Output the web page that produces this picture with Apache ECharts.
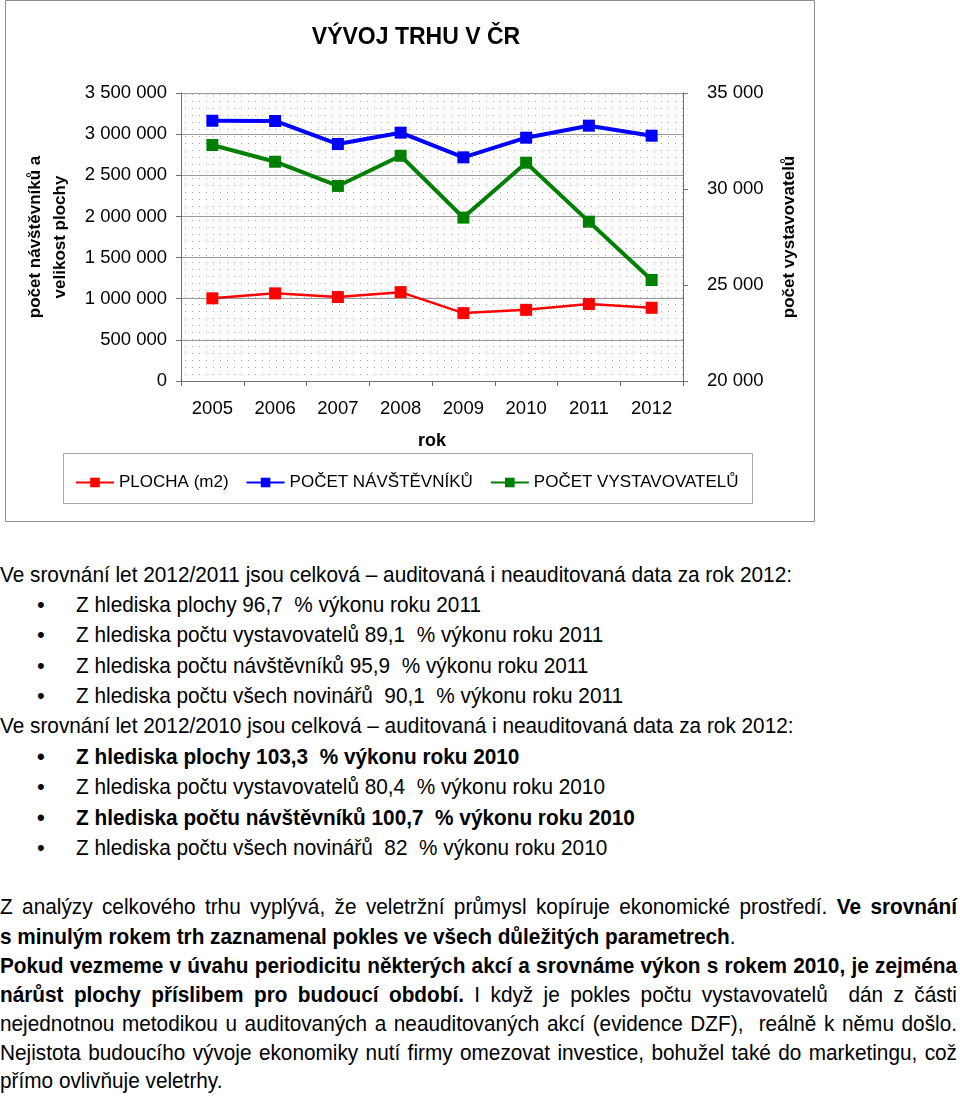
<!DOCTYPE html>
<html><head><meta charset="utf-8">
<script src="https://cdn.jsdelivr.net/npm/echarts@6/dist/echarts.min.js"></script>
<style>
html,body{margin:0;padding:0;background:#fff;width:960px;height:1098px;overflow:hidden;}
#chart{position:absolute;left:0;top:0;width:960px;height:530px;}
.t{position:absolute;left:0;white-space:nowrap;font-family:"Liberation Sans",Arial,sans-serif;font-size:22px;line-height:30px;color:#000;}
.b{font-weight:bold;}
.bul{position:absolute;left:37px;top:0;}
.sc{position:absolute;top:0;white-space:nowrap;transform-origin:0 0;transform:scaleX(var(--k,0.82));}
.j{text-align:justify;text-align-last:justify;white-space:normal;}
</style></head>
<body>
<div id="chart"></div>

<div class="t" style="top:560px"><span class="sc" id="ref1" style="left:0">Ve srovnání let 2012/2011 jsou celková – auditovaná i neauditovaná data za rok 2012:</span></div>
<div class="t" style="top:590px"><span class="bul">•</span><span class="sc" style="left:76px">Z hlediska plochy 96,7&nbsp; % výkonu roku 2011</span></div>
<div class="t" style="top:620px"><span class="bul">•</span><span class="sc" style="left:76px">Z hlediska počtu vystavovatelů 89,1&nbsp; % výkonu roku 2011</span></div>
<div class="t" style="top:651px"><span class="bul">•</span><span class="sc" style="left:76px">Z hlediska počtu návštěvníků 95,9&nbsp; % výkonu roku 2011</span></div>
<div class="t" style="top:681px"><span class="bul">•</span><span class="sc" style="left:76px">Z hlediska počtu všech novinářů&nbsp; 90,1&nbsp; % výkonu roku 2011</span></div>
<div class="t" style="top:711px"><span class="sc" style="left:0">Ve srovnání let 2012/2010 jsou celková – auditovaná i neauditovaná data za rok 2012:</span></div>
<div class="t b" style="top:742px"><span class="bul">•</span><span class="sc" style="left:76px">Z hlediska plochy 103,3&nbsp; % výkonu roku 2010</span></div>
<div class="t" style="top:772px"><span class="bul">•</span><span class="sc" style="left:76px">Z hlediska počtu vystavovatelů 80,4&nbsp; % výkonu roku 2010</span></div>
<div class="t b" style="top:803px"><span class="bul">•</span><span class="sc" style="left:76px">Z hlediska počtu návštěvníků 100,7&nbsp; % výkonu roku 2010</span></div>
<div class="t" style="top:833px"><span class="bul">•</span><span class="sc" style="left:76px">Z hlediska počtu všech novinářů&nbsp; 82&nbsp; % výkonu roku 2010</span></div>

<div class="t" style="top:892px"><div class="sc j jw" style="left:0">Z analýzy celkového trhu vyplývá, že veletržní průmysl kopíruje ekonomické prostředí. <b>Ve srovnání</b></div></div>
<div class="t" style="top:922px"><span class="sc" style="left:0"><b>s minulým rokem trh zaznamenal pokles ve všech důležitých parametrech</b>.</span></div>
<div class="t b" style="top:951px"><div class="sc j jw" style="left:0">Pokud vezmeme v úvahu periodicitu některých akcí a srovnáme výkon s rokem 2010, je zejména</div></div>
<div class="t" style="top:980px"><div class="sc j jw" style="left:0"><b>nárůst plochy příslibem pro budoucí období.</b> I když je pokles počtu vystavovatelů&nbsp; dán z&nbsp;části</div></div>
<div class="t" style="top:1009px"><div class="sc j jw" style="left:0">nejednotnou metodikou u auditovaných a neauditovaných akcí (evidence DZF),&nbsp; reálně k&nbsp;němu došlo.</div></div>
<div class="t" style="top:1038px"><div class="sc j jw" style="left:0">Nejistota budoucího vývoje ekonomiky nutí firmy omezovat investice, bohužel také do marketingu, což</div></div>
<div class="t" style="top:1066px"><span class="sc" style="left:0">přímo ovlivňuje veletrhy.</span></div>

<script>
(function(){
  const r = document.getElementById('ref1');
  const w = r.getBoundingClientRect().width / 0.82;
  const k = 792 / w;
  document.documentElement.style.setProperty('--k', k);
  document.querySelectorAll('.jw').forEach(el => { el.style.width = (957 / k) + 'px'; });
})();

const years = ['2005','2006','2007','2008','2009','2010','2011','2012'];
const plocha = [1005000, 1065000, 1020000, 1080000, 825000, 865000, 935000, 890000];
const navstevnici = [3163000, 3160000, 2880000, 3018000, 2718000, 2957000, 3103000, 2981000];
const vystavovatele = [32290, 31420, 30160, 31730, 28510, 31370, 28300, 25260];
const seriesNames = ['PLOCHA (m2)', 'POČET NÁVŠTĚVNÍKŮ', 'POČET VYSTAVOVATELŮ'];

const pat = document.createElement('canvas');
pat.width = 7; pat.height = 7;
const pc = pat.getContext('2d');
pc.fillStyle = '#fff'; pc.fillRect(0,0,7,7);
pc.fillStyle = '#a8a8a8'; pc.fillRect(3,3,1,1);

function fmt(v){ return String(v).replace(/\B(?=(\d{3})+(?!\d))/g, ' '); }

const font = '"Liberation Sans", Arial, sans-serif';
const chart = echarts.init(document.getElementById('chart'), null, {renderer:'canvas'});
chart.setOption({
  animation: false,
  backgroundColor: '#fff',
  textStyle: {fontFamily: font, color: '#000'},
  title: {text: 'VÝVOJ TRHU V ČR', left: 411, top: 21, textAlign: 'center',
    textStyle: {fontFamily: font, fontSize: 23, fontWeight: 'bold', color: '#000'}},
  graphic: [
    {type:'rect', shape:{x:5.5, y:0.5, width:809, height:521}, style:{fill:'none', stroke:'#8c8c8c', lineWidth:1}, z:-1},
    {type:'rect', shape:{x:63.5, y:453.5, width:689, height:50}, style:{fill:'none', stroke:'#a8a8a8', lineWidth:1}, z:-1}
  ],
  legend: {
    data: seriesNames, left: 70, top: 469, itemWidth: 38, itemHeight: 12, itemGap: 17,
    textStyle: {fontFamily: font, fontSize: 17, color: '#000'}
  },
  grid: {left: 181, right: 277, top: 93, bottom: 149, show: true, borderWidth: 0,
    backgroundColor: {image: pat, repeat: 'repeat'}},
  xAxis: {
    type: 'category', data: years, boundaryGap: true,
    axisLine: {lineStyle: {color: '#707070', width: 1}},
    axisTick: {show: true, length: 5, lineStyle: {color: '#707070'}},
    axisLabel: {fontFamily: font, fontSize: 18.5, color: '#000', margin: 18},
    name: 'rok', nameLocation: 'middle', nameGap: 51,
    nameTextStyle: {fontFamily: font, fontSize: 18, fontWeight: 'bold', color: '#000'}
  },
  yAxis: [
    {type: 'value', min: 0, max: 3500000, interval: 500000, position: 'left',
     axisLine: {show: true, lineStyle: {color: '#707070'}},
     axisTick: {show: true, length: 5, lineStyle: {color: '#707070'}},
     axisLabel: {fontFamily: font, fontSize: 18.5, color: '#000', margin: 14, formatter: fmt},
     splitLine: {show: true, lineStyle: {color: '#9a9a9a', width: 1}},
     name: 'počet návštěvníků a\nvelikost plochy', nameLocation: 'middle', nameGap: 108,
     nameTextStyle: {fontFamily: font, fontSize: 17, fontWeight: 'bold', color: '#000', lineHeight: 25}
    },
    {type: 'value', min: 20000, max: 35000, interval: 5000, position: 'right',
     axisLine: {show: true, lineStyle: {color: '#707070'}},
     axisTick: {show: true, length: 5, lineStyle: {color: '#707070'}},
     axisLabel: {fontFamily: font, fontSize: 18.5, color: '#000', margin: 24, formatter: fmt},
     splitLine: {show: false},
     name: 'počet vystavovatelů', nameLocation: 'middle', nameGap: 98,
     nameTextStyle: {fontFamily: font, fontSize: 17, fontWeight: 'bold', color: '#000'}
    }
  ],
  series: [
    {name: seriesNames[0], type: 'line', yAxisIndex: 0, data: plocha,
     symbol: 'rect', symbolSize: 12, lineStyle: {color: '#ff0000', width: 2.5},
     itemStyle: {color: '#ff0000'}},
    {name: seriesNames[1], type: 'line', yAxisIndex: 0, data: navstevnici,
     symbol: 'rect', symbolSize: 12, lineStyle: {color: '#0000ff', width: 4},
     itemStyle: {color: '#0000ff'}},
    {name: seriesNames[2], type: 'line', yAxisIndex: 1, data: vystavovatele,
     symbol: 'rect', symbolSize: 12, lineStyle: {color: '#008000', width: 4},
     itemStyle: {color: '#008000'}}
  ]
});
</script>
</body></html>
